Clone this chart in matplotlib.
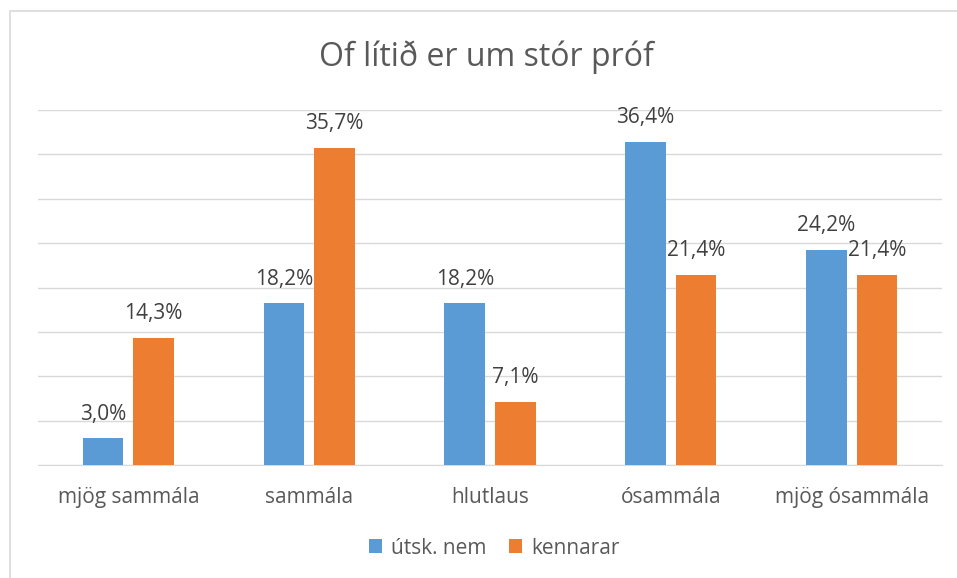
import matplotlib
matplotlib.use("Agg")
import matplotlib.pyplot as plt
import numpy as np
from matplotlib.patches import Rectangle

categories = ["mjög sammála", "sammála", "hlutlaus", "ósammála", "mjög ósammála"]
series_names = ["útsk. nem", "kennarar"]
nem = [3.0, 18.2, 18.2, 36.4, 24.2]
kenn = [14.3, 35.7, 7.1, 21.4, 21.4]

plt.rcParams['font.family'] = ['Open Sans', 'DejaVu Sans']
W, H = 957, 578
fig = plt.figure(figsize=(W/100, H/100), dpi=100)
fig.patches.append(Rectangle((10/W, -0.1), 1.2, 1 - 11/H + 0.1, transform=fig.transFigure,
                             fill=False, edgecolor='#D9D9D9', linewidth=1.2))
ax = fig.add_axes([38/W, 1-465/H, (942-38)/W, (465-110)/H])

x = np.arange(len(categories))
bw = 0.225
off = 0.14
colors = ['#5B9BD5', '#ED7D31']
b1 = ax.bar(x - off, nem, bw, color=colors[0], label=series_names[0], zorder=3)
b2 = ax.bar(x + off, kenn, bw, color=colors[1], label=series_names[1], zorder=3)
for bars, vals in ((b1, nem), (b2, kenn)):
    for r, v in zip(bars, vals):
        ax.annotate(f"{v:.1f}%".replace('.', ','), (r.get_x() + r.get_width()/2, v),
                    xytext=(0, 17.5), textcoords='offset points',
                    ha='center', va='center', fontsize=15, color='#404040')

ax.set_xlim(-0.5, len(categories) - 0.5)
ax.set_ylim(0, 40)
ax.set_yticks(np.arange(0, 41, 5))
ax.yaxis.grid(True, color='#D9D9D9', linewidth=1)
ax.set_axisbelow(True)
ax.tick_params(axis='y', left=False, labelleft=False)
ax.tick_params(axis='x', bottom=False, pad=12, labelsize=15, labelcolor='#595959')
ax.set_xticks(x)
ax.set_xticklabels(categories)
for s in ['top', 'right', 'left']:
    ax.spines[s].set_visible(False)
ax.spines['bottom'].set_color('#D9D9D9')
ax.set_facecolor('none')

fig.text(486/W, 1-57/H, "Of lítið er um stór próf", ha='center', va='center',
         fontsize=23, color='#595959')
fig.legend(handles=[b1, b2], labels=series_names, loc='center', bbox_to_anchor=(494/W, 1-548/H),
           ncol=2, frameon=False, fontsize=15, handlelength=0.65, handleheight=0.65,
           columnspacing=1.1, handletextpad=0.4, labelcolor='#595959')

fig.savefig("out.png", dpi=100)
